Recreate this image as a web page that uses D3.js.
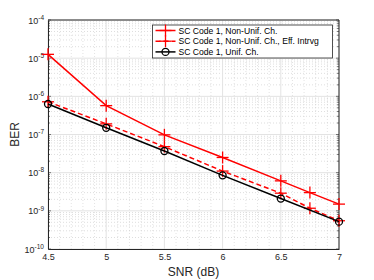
<!DOCTYPE html>
<html>
<head>
<meta charset="utf-8">
<script src="https://cdn.jsdelivr.net/npm/d3@7"></script>
<style>
  body { margin: 0; background: #fff; }
  text { font-family: "Liberation Sans", Arial, sans-serif; }
</style>
</head>
<body>
<div id="chart"></div>
<script>
// data
var snr = [4.5, 5, 5.5, 6, 6.5, 6.75, 7];
var berNonUnif = [1.26e-5, 5.7e-7, 9.8e-8, 2.5e-8, 6.1e-9, 3.0e-9, 1.5e-9];
var berEffIntrvg = [7.2e-7, 1.9e-7, 4.8e-8, 1.1e-8, 2.9e-9, 1.17e-9, 5.5e-10];
var snrUnif = [4.5, 5, 5.5, 6, 6.5, 7];
var berUnif = [6.3e-7, 1.5e-7, 3.7e-8, 8.5e-9, 2.1e-9, 5.2e-10];
var xTicks = [4.5, 5, 5.5, 6, 6.5, 7];
var yExponents = [-10, -9, -8, -7, -6, -5, -4];
var legendLabels = ["SC Code 1, Non-Unif. Ch.", "SC Code 1, Non-Unif. Ch., Eff. Intrvg", "SC Code 1, Unif. Ch."];

var margin = {top: 20, right: 35, bottom: 31, left: 48},
    width = 374 - margin.left - margin.right,
    height = 280 - margin.top - margin.bottom;

var svg = d3.select("#chart")
  .append("svg")
    .attr("width", 374)
    .attr("height", 280)
  .append("g")
    .attr("transform", "translate(" + margin.left + "," + margin.top + ")");

var x = d3.scaleLinear().domain([4.5, 7]).range([0, width]);
var y = d3.scaleLog().domain([1e-10, 1e-4]).range([height, 0]);

// minor grid
var minorX = d3.range(46, 70).map(function(d) { return d / 10; }).filter(function(d) { return Math.abs(d * 2 - Math.round(d * 2)) > 1e-6; });
var minorY = [];
for (var e = -10; e < -4; e++) for (var m = 2; m <= 9; m++) minorY.push(m * Math.pow(10, e));

svg.selectAll("minorX").data(minorX).enter().append("line")
  .attr("x1", function(d) { return x(d); }).attr("x2", function(d) { return x(d); })
  .attr("y1", 0).attr("y2", height)
  .attr("stroke", "#d0d0d0").attr("stroke-width", 0.6).attr("stroke-dasharray", "1,2");
svg.selectAll("minorY").data(minorY).enter().append("line")
  .attr("x1", 0).attr("x2", width)
  .attr("y1", function(d) { return y(d); }).attr("y2", function(d) { return y(d); })
  .attr("stroke", "#c8c8c8").attr("stroke-width", 0.6).attr("stroke-dasharray", "1,2");

// major grid
svg.selectAll("majorX").data(xTicks).enter().append("line")
  .attr("x1", function(d) { return x(d); }).attr("x2", function(d) { return x(d); })
  .attr("y1", 0).attr("y2", height)
  .attr("stroke", "#e3e3e3").attr("stroke-width", 1);
svg.selectAll("majorY").data(yExponents).enter().append("line")
  .attr("x1", 0).attr("x2", width)
  .attr("y1", function(d) { return y(Math.pow(10, d)); }).attr("y2", function(d) { return y(Math.pow(10, d)); })
  .attr("stroke", "#e3e3e3").attr("stroke-width", 1);

// axes
var xAxis = svg.append("g")
  .attr("transform", "translate(0," + height + ")")
  .call(d3.axisBottom(x).tickValues(xTicks).tickSize(0).tickPadding(5).tickFormat(d3.format("")));
xAxis.select(".domain").attr("stroke", "#262626");
xAxis.selectAll("text").attr("fill", "#262626").style("font-size", "9px");

var yAxis = svg.append("g")
  .call(d3.axisLeft(y).tickValues(yExponents.map(function(d) { return Math.pow(10, d); })).tickSize(0).tickPadding(4).tickFormat(""));
yAxis.select(".domain").attr("stroke", "#262626");
yAxis.selectAll(".tick").each(function(d, i) {
  var t = d3.select(this).append("text")
    .attr("x", -4).attr("dy", "0.35em").attr("text-anchor", "end")
    .attr("fill", "#262626").style("font-size", "9px");
  t.append("tspan").text("10");
  t.append("tspan").attr("dy", "-0.6em").style("font-size", "6.5px").text(Math.round(Math.log10(d)));
});

// top and right box with ticks
svg.append("line").attr("x1", 0).attr("x2", width).attr("y1", 0).attr("y2", 0).attr("stroke", "#262626");
svg.append("line").attr("x1", width).attr("x2", width).attr("y1", 0).attr("y2", height).attr("stroke", "#262626");
svg.selectAll("rTicks").data(minorY.concat(yExponents.map(function(d) { return Math.pow(10, d); }))).enter().append("line")
  .attr("x1", width).attr("x2", function(d) { return width - (Math.abs(Math.log10(d) - Math.round(Math.log10(d))) < 1e-6 ? 3 : 2); })
  .attr("y1", function(d) { return y(d); }).attr("y2", function(d) { return y(d); })
  .attr("stroke", "#262626").attr("stroke-width", 0.6);
svg.selectAll("lTicks").data(minorY.concat(yExponents.map(function(d) { return Math.pow(10, d); }))).enter().append("line")
  .attr("x1", 0).attr("x2", function(d) { return Math.abs(Math.log10(d) - Math.round(Math.log10(d))) < 1e-6 ? 3 : 2; })
  .attr("y1", function(d) { return y(d); }).attr("y2", function(d) { return y(d); })
  .attr("stroke", "#262626").attr("stroke-width", 0.6);

// axis labels
svg.append("text")
  .attr("x", width / 2).attr("y", height + 27)
  .attr("text-anchor", "middle").attr("fill", "#262626").style("font-size", "12px")
  .text("SNR (dB)");
svg.append("text")
  .attr("transform", "translate(" + (-29) + "," + (height / 2) + ") rotate(-90)")
  .attr("text-anchor", "middle").attr("fill", "#262626").style("font-size", "12px")
  .text("BER");

// series
var series = [
  {name: legendLabels[0], xs: snr, ys: berNonUnif, color: "#ff0000", dash: null, marker: "plus"},
  {name: legendLabels[1], xs: snr, ys: berEffIntrvg, color: "#ff0000", dash: "5,3", marker: "plus"},
  {name: legendLabels[2], xs: snrUnif, ys: berUnif, color: "#000000", dash: null, marker: "circle"}
];

var line = d3.line()
  .x(function(d) { return x(d[0]); })
  .y(function(d) { return y(d[1]); });

function drawMarker(g, type, color) {
  if (type === "plus") {
    g.append("line").attr("x1", -6).attr("x2", 6).attr("y1", 0).attr("y2", 0).attr("stroke", color).attr("stroke-width", 1.3);
    g.append("line").attr("x1", 0).attr("x2", 0).attr("y1", -6).attr("y2", 6).attr("stroke", color).attr("stroke-width", 1.3);
  } else {
    g.append("circle").attr("r", 3.5).attr("fill", "none").attr("stroke", color).attr("stroke-width", 1.3);
  }
}

series.forEach(function(s) {
  var pts = s.xs.map(function(v, i) { return [v, s.ys[i]]; });
  svg.append("path")
    .attr("d", line(pts))
    .attr("fill", "none")
    .attr("stroke", s.color)
    .attr("stroke-width", 1.5)
    .attr("stroke-dasharray", s.dash);
  pts.forEach(function(p) {
    var g = svg.append("g").attr("transform", "translate(" + x(p[0]) + "," + y(p[1]) + ")");
    drawMarker(g, s.marker, s.color);
  });
});

// legend
var lg = svg.append("g").attr("transform", "translate(" + (152.5 - margin.left) + "," + (25 - margin.top) + ")");
lg.append("rect").attr("width", 180).attr("height", 33).attr("fill", "#fff").attr("stroke", "#262626").attr("stroke-width", 0.8);
series.forEach(function(s, i) {
  var yy = 5.5 + i * 10.7;
  lg.append("line").attr("x1", 3).attr("x2", 23).attr("y1", yy).attr("y2", yy)
    .attr("stroke", s.color).attr("stroke-width", 1.5).attr("stroke-dasharray", s.dash);
  var g = lg.append("g").attr("transform", "translate(13," + yy + ")");
  drawMarker(g, s.marker, s.color);
  lg.append("text").attr("x", 26).attr("y", yy).attr("dy", "0.35em")
    .attr("fill", "#000").style("font-size", "8.6px").text(s.name);
});
</script>
</body>
</html>
